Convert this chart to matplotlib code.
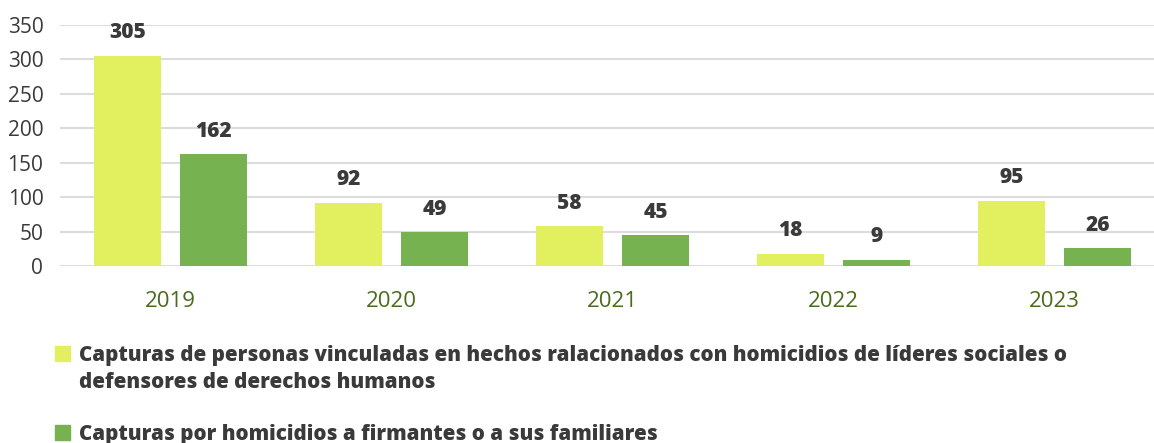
import matplotlib
matplotlib.use("Agg")
import matplotlib.pyplot as plt
from matplotlib.patches import Rectangle
import numpy as np

years = ["2019", "2020", "2021", "2022", "2023"]
lideres = [305, 92, 58, 18, 95]
firmantes = [162, 49, 45, 9, 26]
series_names = [
    "Capturas de personas vinculadas en hechos ralacionados con homicidios de líderes sociales o\ndefensores de derechos humanos",
    "Capturas por homicidios a firmantes o a sus familiares",
]
yticks = [0, 50, 100, 150, 200, 250, 300, 350]

c_light = "#E2F060"
c_dark = "#76B250"
txt = "#3a3a3a"

plt.rcParams["font.family"] = ["Open Sans", "DejaVu Sans"]

W, H = 1154, 443
fig = plt.figure(figsize=(W / 100, H / 100), dpi=100)
ax = fig.add_axes([60 / W, 1 - 266 / H, 1094 / W, (266 - 25) / H])

x = np.arange(len(years))
bw = 0.30
off = 0.195
b1 = ax.bar(x - off, lideres, bw, color=c_light, zorder=3)
b2 = ax.bar(x + off, firmantes, bw, color=c_dark, zorder=3)

for bars, vals in ((b1, lideres), (b2, firmantes)):
    for r, v in zip(bars, vals):
        ax.annotate(str(v), (r.get_x() + r.get_width() / 2, v), xytext=(0, 9),
                    textcoords="offset points", ha="center", va="bottom",
                    fontsize=15, fontweight="heavy", color=txt)

ax.set_xlim(-0.5, 4.45)
ax.set_ylim(0, 350)
ax.set_yticks(yticks)
ax.set_xticks(x)
ax.set_xticklabels(years)
ax.tick_params(axis="x", length=0, pad=18, labelsize=16, labelcolor="#4a6b1c")
ax.tick_params(axis="y", length=0, pad=12, labelsize=15, labelcolor=txt)
ax.grid(axis="y", color="#dcdcdc", linewidth=1.5, zorder=0)
for s in ax.spines.values():
    s.set_visible(False)

# legend
leg_y = [354, 433]
colors = [c_light, c_dark]
for yy, col, name in zip(leg_y, colors, series_names):
    fig.patches.append(Rectangle((55 / W, 1 - (yy + 7) / H), 15 / W, 15 / H,
                                 transform=fig.transFigure, color=col))
    fig.text(79 / W, 1 - (yy - 9) / H, name, ha="left", va="top",
             fontsize=14.8, fontweight="heavy", color=txt, linespacing=1.38)

fig.savefig("out.png", dpi=100)
